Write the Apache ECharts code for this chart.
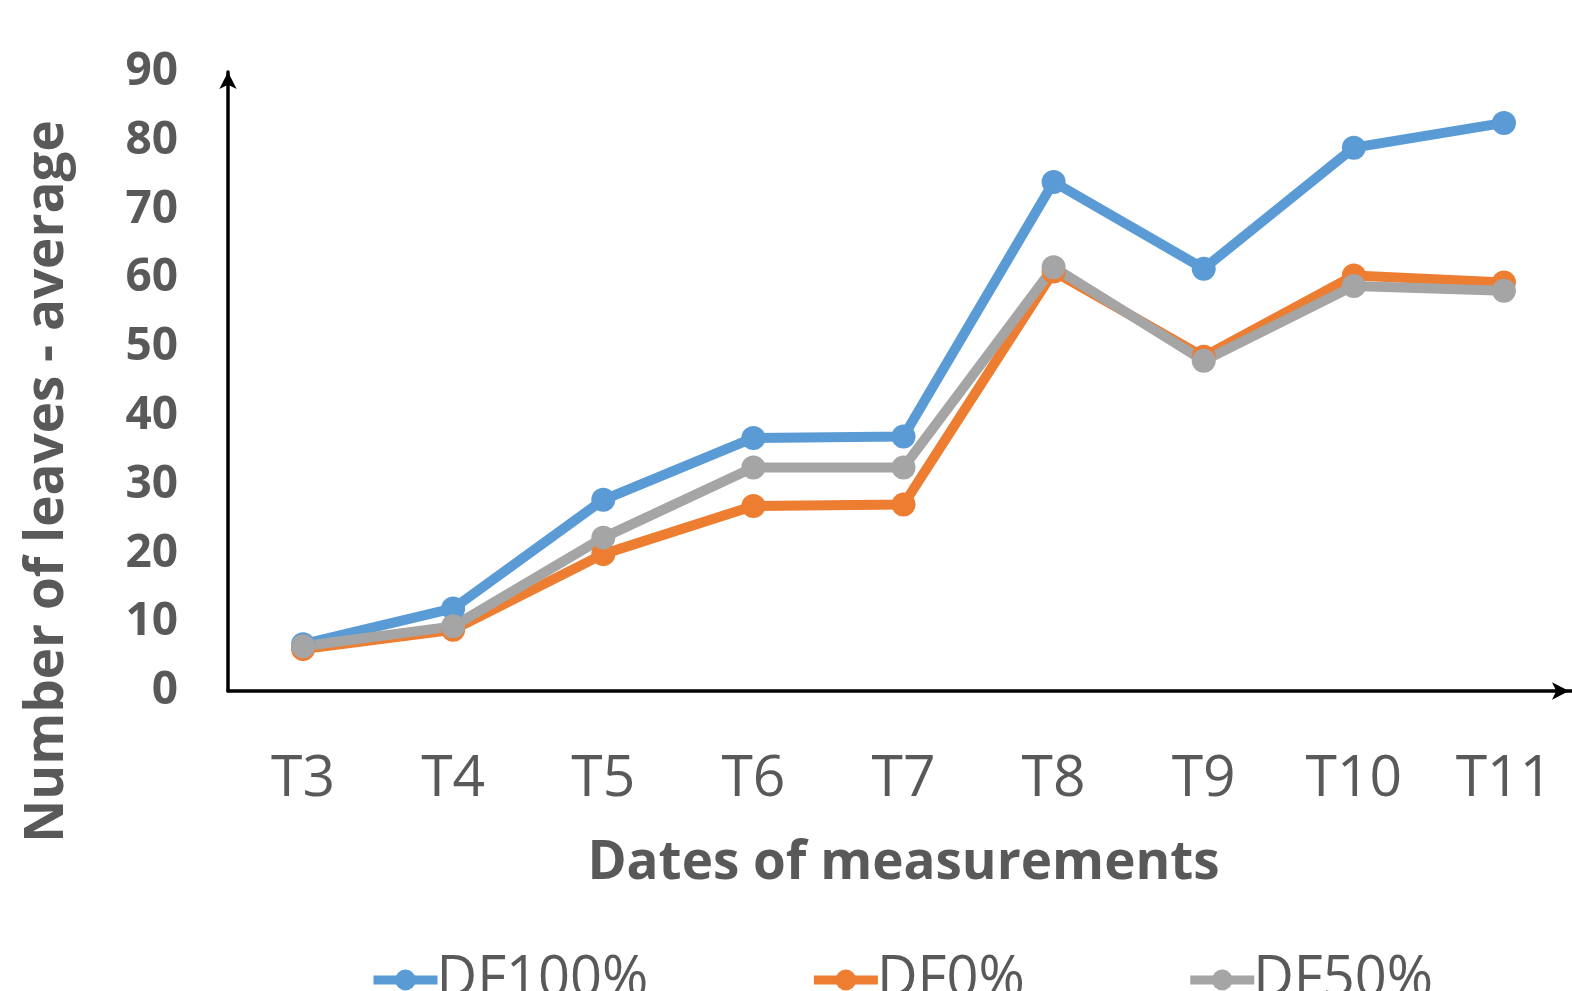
<!DOCTYPE html>
<html>
<head>
<meta charset="utf-8">
<title>Number of leaves</title>
<script src="https://cdn.jsdelivr.net/npm/echarts@6/dist/echarts.min.js"></script>
<style>
  html, body { margin: 0; padding: 0; background: #ffffff; }
  #chart { width: 1572px; height: 991px; }
</style>
</head>
<body>
<div id="chart"></div>
<script>
// Measurement dates and average leaf counts per treatment
const categories = ['T3', 'T4', 'T5', 'T6', 'T7', 'T8', 'T9', 'T10', 'T11'];
const df100 = [6.8, 12.0, 27.8, 36.8, 37.0, 74.0, 61.4, 79.0, 82.6];
const df0   = [6.1, 8.9, 19.9, 26.9, 27.1, 61.0, 48.6, 60.4, 59.4];
const df50  = [6.5, 9.4, 22.3, 32.5, 32.5, 61.6, 48.0, 58.9, 58.2];
const yTicks = { min: 0, max: 90, interval: 10 };

const textColor = '#595959';
const fontFamily = '"Open Sans", "DejaVu Sans", sans-serif';

function lineSeries(name, data, color) {
  return {
    name: name,
    type: 'line',
    data: data,
    symbol: 'circle',
    symbolSize: 24,
    showSymbol: true,
    itemStyle: { color: color },
    lineStyle: { color: color, width: 10 },
    emphasis: { disabled: true },
    animation: false
  };
}

const chart = echarts.init(document.getElementById('chart'), null, { renderer: 'canvas' });
chart.setOption({
  backgroundColor: '#ffffff',
  animation: false,
  textStyle: { fontFamily: fontFamily },
  grid: { left: 228, right: -7, top: 72, bottom: 300, containLabel: false, outerBoundsMode: 'none' },
  legend: {
    bottom: -22,
    left: 364,
    itemGap: 161,
    itemWidth: 64,
    itemHeight: 26,
    lineStyle: { width: 9 },
    textStyle: { fontFamily: fontFamily, fontSize: 56, color: textColor, padding: [0, 0, 0, -6] },
    data: ['DF100%', 'DF0%', 'DF50%']
  },
  xAxis: {
    type: 'category',
    data: categories,
    boundaryGap: true,
    name: 'Dates of measurements',
    nameLocation: 'middle',
    nameGap: 146,
    nameTextStyle: { fontFamily: fontFamily, fontSize: 53, fontWeight: 'bold', color: textColor },
    axisLine: {
      show: true,
      lineStyle: { color: '#000000', width: 3.5 },
      symbol: ['none', 'arrow'],
      symbolSize: [13, 17],
      symbolOffset: [0, -10]
    },
    axisTick: { show: false },
    axisLabel: { fontFamily: fontFamily, fontSize: 57, color: textColor, margin: 60 },
    splitLine: { show: false }
  },
  yAxis: {
    type: 'value',
    min: yTicks.min,
    max: yTicks.max,
    interval: yTicks.interval,
    name: 'Number of leaves - average',
    nameLocation: 'middle',
    nameGap: 154,
    nameRotate: 90,
    nameTextStyle: {
      fontFamily: fontFamily, fontSize: 53, fontWeight: 'bold', color: textColor,
      padding: [0, 200, 0, 0]
    },
    axisLine: {
      show: true,
      lineStyle: { color: '#000000', width: 3.5 },
      symbol: ['none', 'arrow'],
      symbolSize: [13, 17]
    },
    axisTick: { show: false },
    axisLabel: { fontFamily: fontFamily, fontSize: 46, fontWeight: 'bold', color: textColor, margin: 50 },
    splitLine: { show: false }
  },
  series: [
    lineSeries('DF100%', df100, '#5B9BD5'),
    lineSeries('DF0%', df0, '#ED7D31'),
    lineSeries('DF50%', df50, '#A5A5A5')
  ]
});
</script>
</body>
</html>
